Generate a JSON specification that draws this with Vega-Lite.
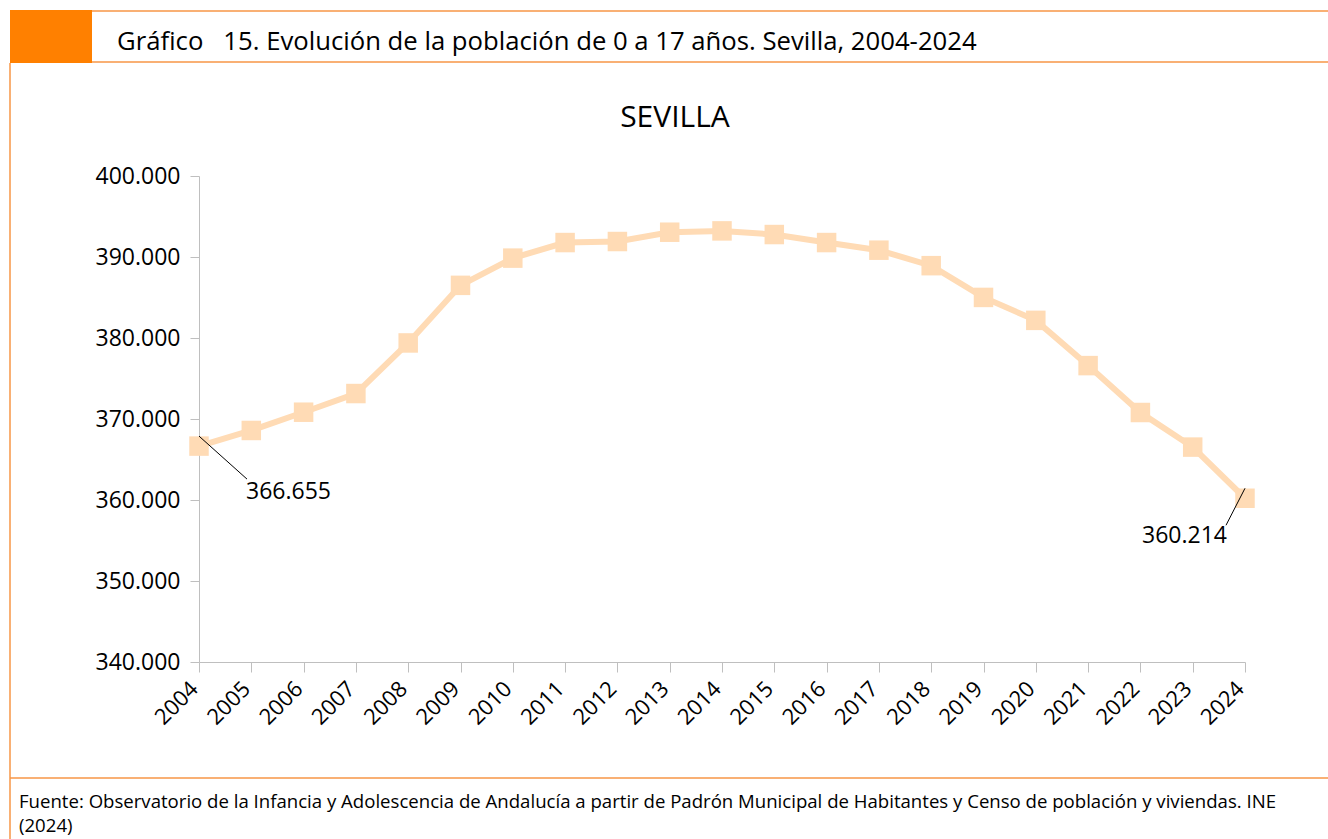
{
  "$schema": "https://vega.github.io/schema/vega-lite/v6.json",
  "width": 1046,
  "height": 486,
  "autosize": {"type": "none"},
  "padding": {"left": 199, "top": 176, "right": 83, "bottom": 177},
  "background": "white",
  "config": {
    "view": {"stroke": null},
    "locale": {"number": {"decimal": ",", "thousands": ".", "grouping": [3], "currency": ["", " €"]}},
    "font": "Open Sans"
  },
  "title": {
    "text": "SEVILLA",
    "font": "Open Sans",
    "fontSize": 30,
    "fontWeight": "normal",
    "color": "#000000",
    "anchor": "middle",
    "frame": "group",
    "baseline": "alphabetic",
    "dx": -47,
    "offset": -147
  },
  "datasets": {
    "pop": [
      {"year": 2004, "value": 366655},
      {"year": 2005, "value": 368584},
      {"year": 2006, "value": 370838},
      {"year": 2007, "value": 373143},
      {"year": 2008, "value": 379389},
      {"year": 2009, "value": 386500},
      {"year": 2010, "value": 389861},
      {"year": 2011, "value": 391783},
      {"year": 2012, "value": 391911},
      {"year": 2013, "value": 393060},
      {"year": 2014, "value": 393224},
      {"year": 2015, "value": 392772},
      {"year": 2016, "value": 391783},
      {"year": 2017, "value": 390842},
      {"year": 2018, "value": 388930},
      {"year": 2019, "value": 385010},
      {"year": 2020, "value": 382177},
      {"year": 2021, "value": 376592},
      {"year": 2022, "value": 370802},
      {"year": 2023, "value": 366530},
      {"year": 2024, "value": 360214}
    ],
    "header": [{"text": "Gráfico\u00a0\u00a0\u00a015. Evolución de la población de 0 a 17 años. Sevilla, 2004-2024"}],
    "footer": [{"text": "Fuente: Observatorio de la Infancia y Adolescencia de Andalucía a partir de Padrón Municipal de Habitantes y Censo de población y viviendas. INE\n(2024)"}]
  },
  "layer": [
    {
      "data": {"name": "pop"},
      "mark": {"type": "line", "color": "#FFDBB5", "strokeWidth": 6},
      "encoding": {
        "x": {
          "field": "year", "type": "quantitative",
          "scale": {"domain": [2004, 2024], "nice": false, "zero": false},
          "axis": {
            "title": null,
            "values": [2004,2005,2006,2007,2008,2009,2010,2011,2012,2013,2014,2015,2016,2017,2018,2019,2020,2021,2022,2023,2024],
            "format": "d",
            "labelAngle": -45,
            "labelAlign": "right",
            "labelBaseline": "middle",
            "labelFontSize": 22,
            "labelColor": "#000000",
            "labelFont": "Open Sans",
            "labelPadding": 13,
            "labelOffset": -5,
            "domainColor": "#BFBFBF",
            "tickColor": "#BFBFBF",
            "tickSize": 10,
            "grid": false,
            "labelOverlap": false,
            "labelFlush": false
          }
        },
        "y": {
          "field": "value", "type": "quantitative",
          "scale": {"domain": [340000, 400000], "nice": false, "zero": false},
          "axis": {
            "title": null,
            "values": [340000, 350000, 360000, 370000, 380000, 390000, 400000],
            "format": ",.0f",
            "labelFontSize": 23,
            "labelColor": "#000000",
            "labelFont": "Open Sans",
            "labelPadding": 10,
            "domainColor": "#BFBFBF",
            "tickColor": "#BFBFBF",
            "tickSize": 9,
            "grid": false,
            "labelFlush": false
          }
        }
      }
    },
    {
      "data": {"name": "pop"},
      "mark": {"type": "point", "shape": "square", "filled": true, "size": 380, "color": "#FFDBB5", "opacity": 1},
      "encoding": {
        "x": {"field": "year", "type": "quantitative"},
        "y": {"field": "value", "type": "quantitative"}
      }
    },
    {
      "data": {"name": "pop"},
      "transform": [{"filter": "datum.year == 2004"}],
      "mark": {"type": "rule", "color": "#000000", "strokeWidth": 1, "yOffset": -10, "x2Offset": 48, "y2Offset": 33},
      "encoding": {
        "x": {"field": "year", "type": "quantitative"},
        "y": {"field": "value", "type": "quantitative"},
        "x2": {"field": "year"},
        "y2": {"field": "value"}
      }
    },
    {
      "data": {"name": "pop"},
      "transform": [{"filter": "datum.year == 2024"}],
      "mark": {"type": "rule", "color": "#000000", "strokeWidth": 1, "yOffset": -10, "x2Offset": -19, "y2Offset": 27},
      "encoding": {
        "x": {"field": "year", "type": "quantitative"},
        "y": {"field": "value", "type": "quantitative"},
        "x2": {"field": "year"},
        "y2": {"field": "value"}
      }
    },
    {
      "data": {"name": "pop"},
      "transform": [{"filter": "datum.year == 2004"}],
      "mark": {"type": "text", "align": "left", "baseline": "middle", "dx": 47, "dy": 46, "fontSize": 23, "font": "Open Sans", "color": "#000000"},
      "encoding": {
        "x": {"field": "year", "type": "quantitative"},
        "y": {"field": "value", "type": "quantitative"},
        "text": {"field": "value", "type": "quantitative", "format": ",.0f"}
      }
    },
    {
      "data": {"name": "pop"},
      "transform": [{"filter": "datum.year == 2024"}],
      "mark": {"type": "text", "align": "right", "baseline": "middle", "dx": -18, "dy": 38, "fontSize": 23, "font": "Open Sans", "color": "#000000"},
      "encoding": {
        "x": {"field": "year", "type": "quantitative"},
        "y": {"field": "value", "type": "quantitative"},
        "text": {"field": "value", "type": "quantitative", "format": ",.0f"}
      }
    },
    {
      "data": {"name": "header"},
      "mark": {"type": "rect", "color": "#FF8000"},
      "encoding": {"x": {"value": -189}, "x2": {"value": -107}, "y": {"value": -166}, "y2": {"value": -113}}
    },
    {
      "data": {"name": "header"},
      "mark": {"type": "rule", "color": "#F79646", "strokeWidth": 1.5},
      "encoding": {"x": {"value": -107}, "x2": {"value": 1129}, "y": {"value": -165}}
    },
    {
      "data": {"name": "header"},
      "mark": {"type": "rule", "color": "#F79646", "strokeWidth": 1.5},
      "encoding": {"x": {"value": -107}, "x2": {"value": 1129}, "y": {"value": -114}}
    },
    {
      "data": {"name": "header"},
      "mark": {"type": "rule", "color": "#F79646", "strokeWidth": 1.5},
      "encoding": {"x": {"value": -189}, "y": {"value": -113}, "y2": {"value": 663}}
    },
    {
      "data": {"name": "header"},
      "mark": {"type": "rule", "color": "#F79646", "strokeWidth": 1.5},
      "encoding": {"x": {"value": -189}, "x2": {"value": 1129}, "y": {"value": 602}}
    },
    {
      "data": {"name": "header"},
      "mark": {"type": "text", "align": "left", "baseline": "middle", "fontSize": 25.7, "font": "Open Sans", "color": "#000000"},
      "encoding": {"x": {"value": -82}, "y": {"value": -134}, "text": {"field": "text"}}
    },
    {
      "data": {"name": "footer"},
      "mark": {"type": "text", "align": "left", "baseline": "middle", "fontSize": 18.6, "font": "Open Sans", "color": "#000000", "lineBreak": "\n", "lineHeight": 24},
      "encoding": {"x": {"value": -180}, "y": {"value": 626}, "text": {"field": "text"}}
    }
  ]
}
